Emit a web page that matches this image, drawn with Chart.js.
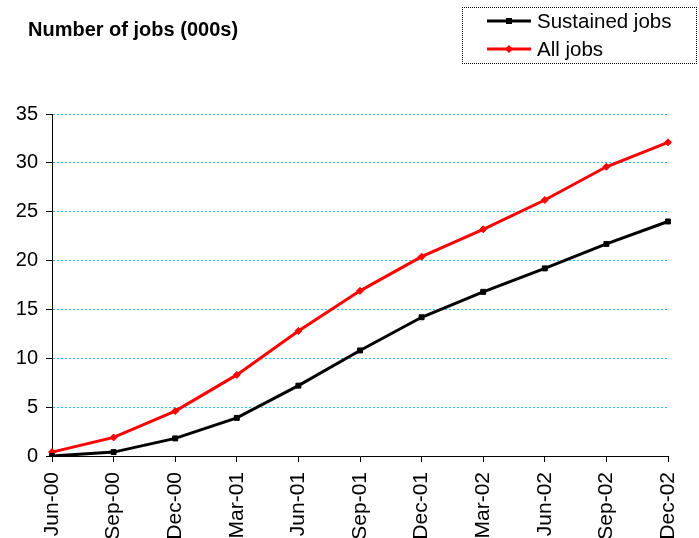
<!DOCTYPE html>
<html>
<head>
<meta charset="utf-8">
<script src="https://cdn.jsdelivr.net/npm/chart.js@4"></script>
<style>
  body { margin: 0; background: #fff; font-family: "Liberation Sans", Arial, sans-serif; overflow: hidden; }
  #wrap { position: relative; width: 699px; height: 538px; overflow: hidden; }
  #title { position: absolute; left: 28px; top: 18px; font-size: 20px; font-weight: bold; color: #000; white-space: nowrap; }
  #legend { position: absolute; left: 462px; top: 7px; width: 233px; height: 55px; border: 1px dotted #000; }
  .item { position: absolute; left: 0; height: 24px; font-size: 20.5px; line-height: 24px; }
  .item canvas { position: absolute; left: 22px; top: 3px; }
  .item span { position: absolute; left: 74px; white-space: nowrap; }
</style>
</head>
<body>
<div id="wrap">
  <canvas id="chart" width="699" height="538"></canvas>
  <div id="title">Number of jobs (000s)</div>
  <div id="legend">
    <div class="item" style="top:1px"><canvas id="lg0" width="48" height="18"></canvas><span>Sustained jobs</span></div>
    <div class="item" style="top:29px"><canvas id="lg1" width="48" height="18"></canvas><span>All jobs</span></div>
  </div>
</div>
<script>
// ======== Data ========
const labels = ['Jun-00', 'Sep-00', 'Dec-00', 'Mar-01', 'Jun-01', 'Sep-01', 'Dec-01', 'Mar-02', 'Jun-02', 'Sep-02', 'Dec-02'];
const sustainedJobs = [0, 0.4, 1.8, 3.9, 7.2, 10.8, 14.2, 16.8, 19.2, 21.7, 24.0];
const allJobs = [0.4, 1.9, 4.6, 8.3, 12.8, 16.9, 20.4, 23.2, 26.2, 29.6, 32.1];
const yTicks = [0, 5, 10, 15, 20, 25, 30, 35];

// ======== Legend swatches ========
function drawSwatch(id, color, style) {
  const ctx = document.getElementById(id).getContext('2d');
  ctx.strokeStyle = color;
  ctx.fillStyle = color;
  ctx.lineWidth = 3;
  ctx.beginPath();
  ctx.moveTo(2, 9);
  ctx.lineTo(46, 9);
  ctx.stroke();
  if (style === 'rect') {
    ctx.fillRect(21, 6, 6, 6);
  } else {
    ctx.beginPath();
    ctx.moveTo(24, 5); ctx.lineTo(28, 9); ctx.lineTo(24, 13); ctx.lineTo(20, 9);
    ctx.closePath();
    ctx.fill();
  }
}
drawSwatch('lg0', '#000000', 'rect');
drawSwatch('lg1', '#ff0000', 'diamond');

// ======== Chart ========
new Chart(document.getElementById('chart').getContext('2d'), {
  type: 'line',
  data: {
    labels: labels,
    datasets: [
      {
        label: 'Sustained jobs',
        data: sustainedJobs,
        borderColor: '#000000',
        backgroundColor: '#000000',
        borderWidth: 3,
        pointStyle: 'rect',
        pointRadius: 3.5,
        pointBorderWidth: 1,
        tension: 0
      },
      {
        label: 'All jobs',
        data: allJobs,
        borderColor: '#ff0000',
        backgroundColor: '#ff0000',
        borderWidth: 3,
        pointStyle: 'rectRot',
        pointRadius: 3.5,
        pointBorderWidth: 1,
        tension: 0
      }
    ]
  },
  options: {
    responsive: false,
    animation: false,
    layout: { padding: { top: 114, right: 31, left: 0, bottom: 0 } },
    plugins: { legend: { display: false }, tooltip: { enabled: false } },
    scales: {
      x: {
        offset: false,
        afterFit: s => { s.height = 82; s.paddingLeft = 0; s.paddingRight = 0; },
        grid: { drawOnChartArea: false, drawTicks: true, tickLength: 6, tickColor: '#000', lineWidth: 1 },
        border: { color: '#000', dash: [2, 2], width: 1 },
        ticks: {
          color: '#000',
          font: { family: 'Liberation Sans', size: 21 },
          minRotation: 90,
          maxRotation: 90,
          autoSkip: false,
          padding: 10
        }
      },
      y: {
        min: 0,
        max: 35,
        afterFit: s => { s.width = 52; s.paddingTop = 0; s.paddingBottom = 0; },
        afterBuildTicks: s => { s.ticks = yTicks.map(v => ({ value: v })); },
        grid: { color: '#22c4ee', lineWidth: 1, tickLength: 6, tickColor: '#000', drawTicks: true },
        border: { color: '#000', dash: [2, 2], width: 1 },
        ticks: {
          color: '#000',
          font: { family: 'Liberation Sans', size: 20 },
          padding: 8
        }
      }
    }
  }
});
</script>
</body>
</html>
